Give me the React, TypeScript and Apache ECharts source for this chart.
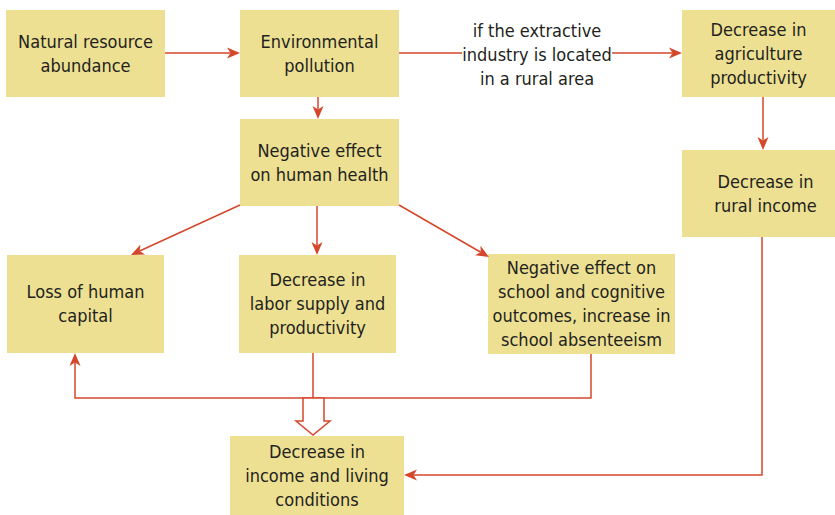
import React, { useEffect, useRef } from "react";
import * as echarts from "echarts";

// Node texts
const NODE_LABELS: string[] = [
  "Natural resource\nabundance",
  "Environmental\npollution",
  "Decrease in\nagriculture\nproductivity",
  "Negative effect\non human health",
  "Decrease in\nrural income",
  "Loss of human\ncapital",
  "Decrease in\nlabor supply and\nproductivity",
  "Negative effect on\nschool and cognitive\noutcomes, increase in\nschool absenteeism",
  "Decrease in\nincome and living\nconditions",
];
const EDGE_LABEL = "if the extractive\nindustry is located\nin a rural area";

// Layout (x, y, w, h)
const NODE_BOXES: number[][] = [
  [6, 10, 159, 87],
  [240, 10, 159, 87],
  [682, 10, 153, 87],
  [240, 119, 159, 87],
  [682, 150, 153, 87],
  [7, 255, 157, 98],
  [239, 255, 157, 98],
  [488, 254, 187, 100],
  [230, 436, 174, 79],
];
// Horizontal text offsets within boxes
const TEXT_DX: number[] = [0, 0, 0, 0, 7, 0, 0, 0, 0];

// Connectors: polyline points, arrow at end or not
const EDGES: { pts: number[][]; arrow: boolean }[] = [
  { pts: [[165, 53], [240, 53]], arrow: true },
  { pts: [[399, 53], [462, 53]], arrow: false },
  { pts: [[612, 53], [682, 53]], arrow: true },
  { pts: [[318, 97], [318, 119]], arrow: true },
  { pts: [[763, 97], [763, 150]], arrow: true },
  { pts: [[240, 205], [131, 255]], arrow: true },
  { pts: [[317, 206], [317, 255]], arrow: true },
  { pts: [[399, 205], [489, 257]], arrow: true },
  { pts: [[591, 354], [591, 398], [75, 398], [75, 353]], arrow: true },
  { pts: [[313, 353], [313, 398]], arrow: false },
  { pts: [[762, 237], [762, 475], [404, 475]], arrow: true },
];
const HOLLOW_ARROW: number[][] = [
  [303, 398], [324, 398], [324, 421], [330, 421], [313, 435], [296, 421], [303, 421],
];

const BOX_FILL = "#EDE092";
const LINE = "#D5472B";
const TEXT = "#231F20";
const FONT = "'Liberation Sans Narrow', 'DejaVu Sans Condensed', 'Noto Sans', sans-serif";
const FONT_SIZE = 18;
const LINE_H = 24;

function arrowHead(tip: number[], from: number[]) {
  const L = 13, W = 5.5, N = 3.5;
  let dx = tip[0] - from[0], dy = tip[1] - from[1];
  const len = Math.hypot(dx, dy);
  dx /= len; dy /= len;
  const nx = -dy, ny = dx;
  const bx = tip[0] - L * dx, by = tip[1] - L * dy;
  return {
    points: [
      tip,
      [bx + W * nx, by + W * ny],
      [tip[0] - (L - N) * dx, tip[1] - (L - N) * dy],
      [bx - W * nx, by - W * ny],
    ],
    notch: [tip[0] - (L - N) * dx, tip[1] - (L - N) * dy],
  };
}

export default function App() {
  const ref = useRef<HTMLDivElement>(null);
  useEffect(() => {
    const chart = echarts.init(ref.current!, null, { renderer: "svg" });
    const elements: any[] = [];
    NODE_BOXES.forEach((b, i) => {
      elements.push({
        type: "rect",
        shape: { x: b[0], y: b[1], width: b[2], height: b[3] },
        style: { fill: BOX_FILL },
        silent: true,
      });
      elements.push({
        type: "text",
        x: b[0] + b[2] / 2 + TEXT_DX[i],
        y: b[1] + b[3] / 2 - 0.5,
        style: {
          text: NODE_LABELS[i],
          fill: TEXT,
          fontSize: FONT_SIZE,
          fontFamily: FONT,
          lineHeight: LINE_H,
          align: "center",
          verticalAlign: "middle",
        },
        silent: true,
      });
    });
    elements.push({
      type: "text",
      x: 537,
      y: 54,
      style: {
        text: EDGE_LABEL,
        fill: TEXT,
        fontSize: FONT_SIZE,
        fontFamily: FONT,
        lineHeight: LINE_H,
        align: "center",
        verticalAlign: "middle",
      },
      silent: true,
    });
    EDGES.forEach((e) => {
      const pts = e.pts.map((p) => p.slice());
      if (e.arrow) {
        const tip = pts[pts.length - 1];
        const from = pts[pts.length - 2];
        const ah = arrowHead(tip, from);
        pts[pts.length - 1] = ah.notch;
        elements.push({
          type: "polygon",
          shape: { points: ah.points },
          style: { fill: LINE },
          silent: true,
        });
      }
      elements.push({
        type: "polyline",
        shape: { points: pts },
        style: { stroke: LINE, lineWidth: 1.5, fill: null },
        silent: true,
      });
    });
    elements.push({
      type: "polygon",
      shape: { points: HOLLOW_ARROW },
      style: { stroke: LINE, lineWidth: 1.5, fill: "#ffffff" },
      silent: true,
    });
    chart.setOption({ animation: false, graphic: { elements } });
    return () => chart.dispose();
  }, []);
  return <div ref={ref} style={{ width: 835, height: 515, position: "absolute", left: 0, top: 0 }} />;
}
